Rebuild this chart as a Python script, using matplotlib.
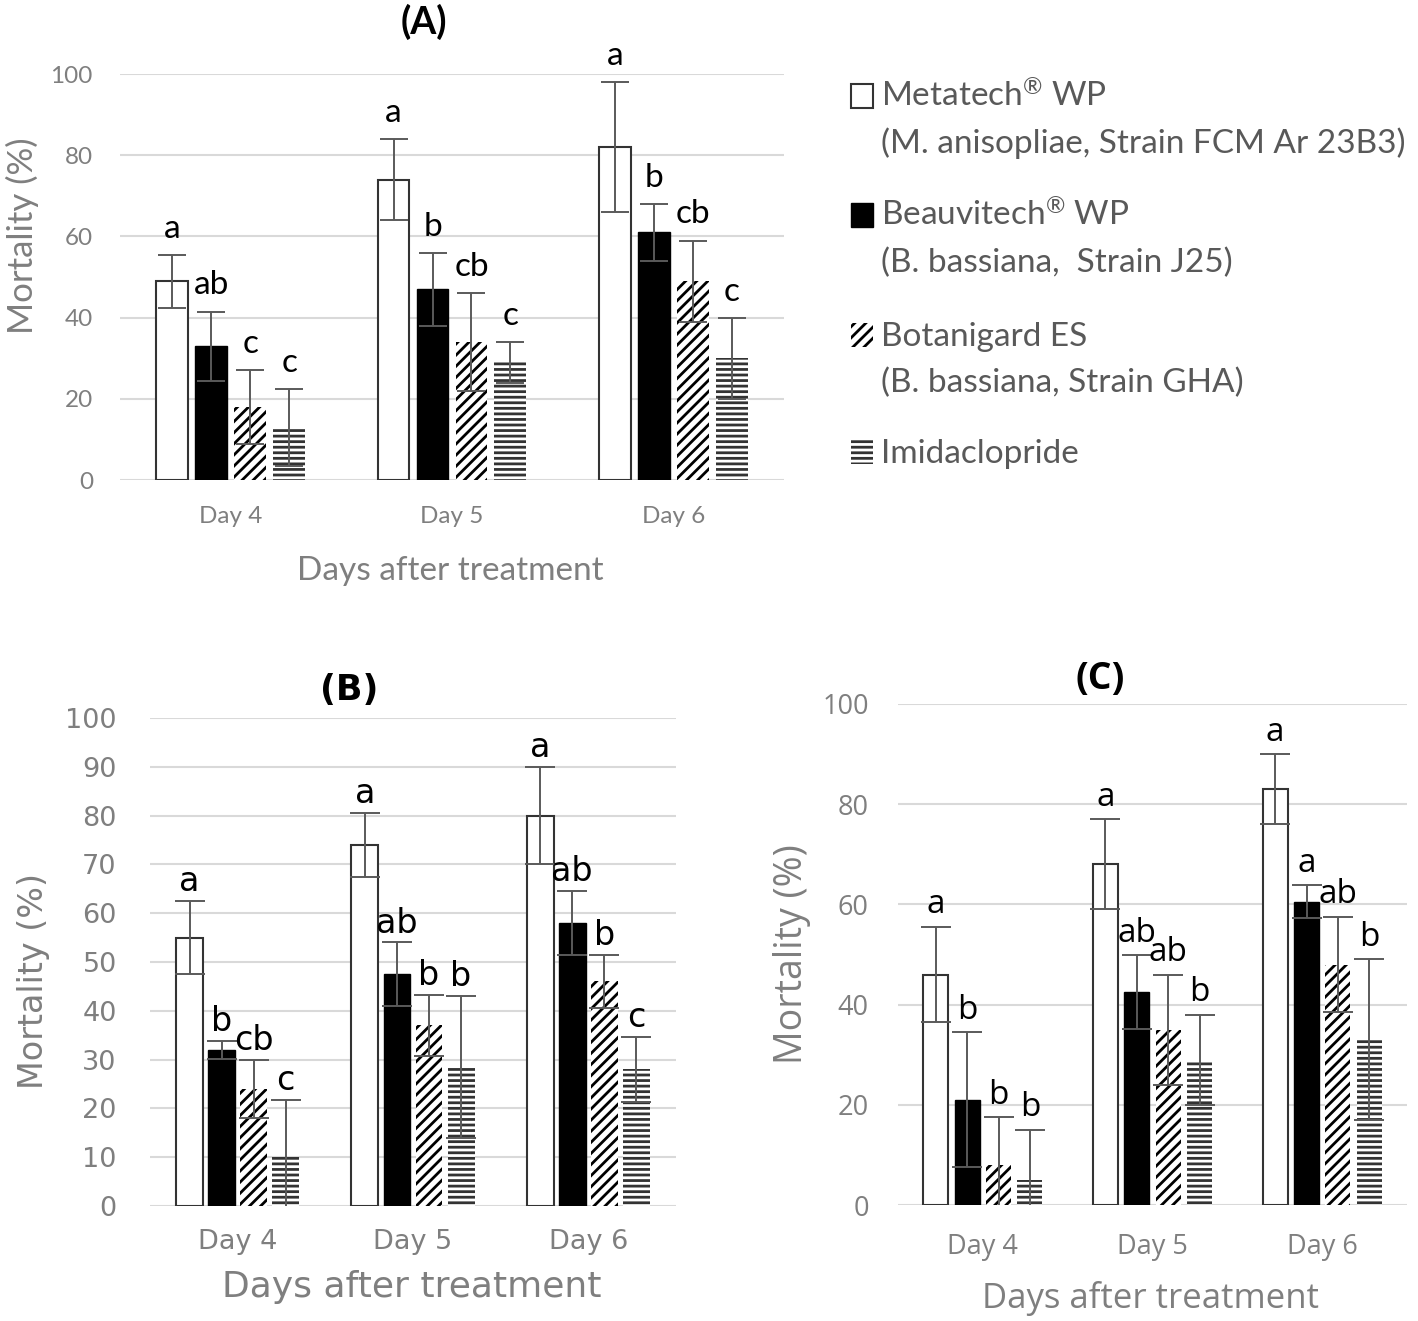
import numpy as np
import matplotlib
matplotlib.use("Agg")
from matplotlib import pyplot as plt
from matplotlib.patches import Rectangle

# data
days = ["Day 4", "Day 5", "Day 6"]
names = [r"Metatech$^{\circledR}$WP", r"Beauvitech$^{\circledR}$WP",
         "Botanigard ES", "Imidaclopride"]
strains = ["(M. anisopliae, Strain FCM Ar 23B3)", "(B. bassiana,  Strain J25)",
           "(B. bassiana, Strain GHA)", ""]

# panel A
a_mean = [[49, 74, 82], [33, 47, 61], [18, 34, 49], [13, 29, 30]]
a_err = [[6.5, 10, 16], [8.5, 9, 7], [9, 12, 10], [9.5, 5, 10]]
a_letters = [["a", "a", "a"], ["ab", "b", "b"], ["c", "cb", "cb"], ["c", "c", "c"]]

# panel B
b_mean = [[55, 74, 80], [32, 47.5, 58], [24, 37, 46], [10, 28.5, 28]]
b_err = [[7.5, 6.5, 10], [1.8, 6.5, 6.5], [6, 6.3, 5.5], [11.8, 14.5, 6.7]]
b_letters = [["a", "a", "a"], ["b", "ab", "ab"], ["cb", "b", "b"], ["c", "b", "c"]]

# panel C
c_mean = [[46, 68, 83], [21, 42.5, 60.5], [8, 35, 48], [5, 29, 33]]
c_err = [[9.5, 9, 7], [13.5, 7.3, 3.3], [9.5, 11, 9.5], [10, 9, 16]]
c_letters = [["a", "a", "a"], ["b", "ab", "a"], ["b", "ab", "ab"], ["b", "b", "b"]]

GREY = "#7f7f7f"
GRID = "#d9d9d9"
W, H = 1418, 1321

styles = [
    dict(facecolor="white", edgecolor="#333333", hatch=None, linewidth=1.5),
    dict(facecolor="black", edgecolor="black", hatch=None, linewidth=1.0),
    dict(facecolor="white", edgecolor="black", hatch="///", linewidth=0.0),
    dict(facecolor="white", edgecolor="#333333", hatch="---", linewidth=0.0),
]

plt.rcParams["hatch.linewidth"] = 2.0
plt.rcParams["mathtext.fontset"] = "custom"
plt.rcParams["mathtext.rm"] = "Lato"
plt.rcParams["mathtext.default"] = "regular"


def panel(ax, means, errs, letters, cfg):
    font = cfg["font"]
    x = np.arange(len(days))
    for i in range(4):
        pos = x + (i - 1.5) * cfg["pitch"]
        ax.bar(pos, means[i], cfg["width"], zorder=2, **styles[i])
        ax.errorbar(pos, means[i], yerr=errs[i], fmt="none", ecolor="#5a5a5a",
                    elinewidth=1.4, capsize=cfg["cap"], capthick=1.4, zorder=3)
        for j in range(len(days)):
            ax.annotate(letters[i][j], (pos[j], means[i][j] + errs[i][j]),
                        xytext=(0, cfg["let_off"]), textcoords="offset points",
                        ha="center", va="bottom", fontsize=cfg["let_fs"],
                        family=font, color="black", annotation_clip=False)
    ax.set_xlim(-0.5, 2.5)
    ax.set_ylim(0, 100)
    ax.set_xticks(x)
    ax.set_yticks(range(0, 101, cfg["step"]))
    ax.set_xticklabels(days, fontsize=cfg["day_fs"], family=font, color=GREY)
    ax.tick_params(axis="x", length=0, pad=cfg["xpad"])
    ax.tick_params(axis="y", length=0, pad=cfg["ypad"])
    for lab in ax.get_yticklabels():
        lab.set_fontsize(cfg["tick_fs"])
        lab.set_family(font)
        lab.set_color(GREY)
    ax.grid(axis="y", color=GRID, linewidth=1.5, zorder=0)
    ax.set_axisbelow(True)
    for s in ax.spines.values():
        s.set_visible(False)
    ax.set_ylabel("Mortality (%)", fontsize=cfg["ylab_fs"], family=font, color=GREY)
    ax.yaxis.set_label_coords(*cfg["ylab_xy"])
    ax.yaxis.label.set_va("center")
    ax.set_xlabel("Days after treatment", fontsize=cfg["xlab_fs"], family=font,
                  color=GREY)
    ax.xaxis.set_label_coords(*cfg["xlab_xy"])
    ax.xaxis.label.set_va("center")
    ax.text(cfg["title_xy"][0], cfg["title_xy"][1], cfg["title"],
            transform=ax.transAxes, ha="center", va="center",
            fontsize=cfg["title_fs"], family=font, fontweight="bold")


fig = plt.figure(figsize=(W / 100, H / 100), dpi=100)

ax_a = fig.add_axes([0.0846, 0.6366, 0.4683, 0.3073])
panel(ax_a, a_mean, a_err, a_letters, dict(
    font="Lato", width=0.144, pitch=0.176, cap=10, let_fs=24, let_off=8,
    step=20, day_fs=17.5, tick_fs=17.5, xpad=18.5, ypad=19.5,
    ylab_fs=25, ylab_xy=(-0.147, 0.603), xlab_fs=24, xlab_xy=(0.497, -0.224),
    title="(A)", title_fs=27, title_xy=(0.458, 1.128)))

ax_b = fig.add_axes([0.1058, 0.0871, 0.3709, 0.3694])
panel(ax_b, b_mean, b_err, b_letters, dict(
    font="DejaVu Sans", width=0.153, pitch=0.183, cap=11, let_fs=24, let_off=2,
    step=10, day_fs=19.5, tick_fs=19.5, xpad=16.5, ypad=24,
    ylab_fs=24, ylab_xy=(-0.221, 0.461), xlab_fs=26, xlab_xy=(0.498, -0.166),
    title="(B)", title_fs=25, title_xy=(0.378, 1.057)))

ax_c = fig.add_axes([0.6333, 0.0878, 0.3590, 0.3793])
panel(ax_c, c_mean, c_err, c_letters, dict(
    font="Open Sans", width=0.147, pitch=0.185, cap=11, let_fs=24, let_off=4,
    step=20, day_fs=19.5, tick_fs=19.5, xpad=20, ypad=21,
    ylab_fs=27, ylab_xy=(-0.208, 0.5), xlab_fs=25, xlab_xy=(0.495, -0.186),
    title="(C)", title_fs=27, title_xy=(0.397, 1.05)))

# legend, drawn by hand so the swatch sits on the first line of each entry
baselines = [107, 226, 346, 463]
for k in range(4):
    yb = baselines[k]
    fig.patches.append(Rectangle((851 / W, 1 - (yb + 1) / H), 22 / W, 24 / H,
                                 transform=fig.transFigure, **styles[k]))
    fig.text(881 / W, 1 - yb / H, names[k].replace("$WP", "$ WP"), fontsize=24,
             family="Lato", color="#595959", va="baseline", ha="left")
    if strains[k]:
        fig.text(881 / W, 1 - (yb + 46) / H, strains[k], fontsize=24,
                 family="Lato", color="#595959", va="baseline", ha="left")

fig.savefig("out.png", dpi=100)
